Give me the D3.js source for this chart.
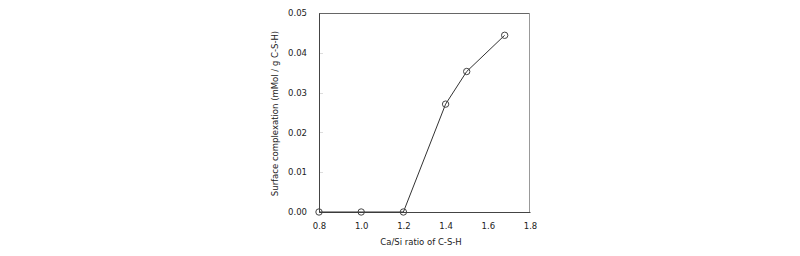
<!DOCTYPE html>
<html>
<head>
<meta charset="utf-8">
<script src="https://cdn.jsdelivr.net/npm/d3@7"></script>
<style>
  body { margin: 0; background: #fff; }
  svg text { font-family: "DejaVu Sans", Verdana, sans-serif; font-size: 8.5px; fill: #222; }
</style>
</head>
<body>
<svg id="chart" width="800" height="256"></svg>
<script>
"use strict";

// Ca/Si ratio vs surface complexation
const caSi = [0.8, 1.0, 1.2, 1.4, 1.5, 1.68];
const complexation = [0, 0, 0, 0.0271, 0.0353, 0.0444];
const xTicks = [0.8, 1.0, 1.2, 1.4, 1.6, 1.8];
const yTicks = [0, 0.01, 0.02, 0.03, 0.04, 0.05];

const svg = d3.select('#chart');
const plotL = 319, plotR = 530, plotT = 13, plotB = 212;

const x = d3.scaleLinear().domain([0.8, 1.8]).range([plotL, plotR]);
const y = d3.scaleLinear().domain([0, 0.05]).range([plotB, plotT]);

// frame (top/right lighter)
svg.append('line').attr('x1', plotL).attr('x2', plotR).attr('y1', plotT + 0.5).attr('y2', plotT + 0.5)
  .attr('stroke', '#666').attr('stroke-width', 1);
svg.append('line').attr('x1', plotR - 0.5).attr('x2', plotR - 0.5).attr('y1', plotT).attr('y2', plotB)
  .attr('stroke', '#999').attr('stroke-width', 1);

// inner faint ticks
svg.append('g').selectAll('line').data(yTicks.slice(1, -1)).enter().append('line')
  .attr('x1', plotL).attr('x2', plotL + 4)
  .attr('y1', d => Math.round(y(d)) + 0.5).attr('y2', d => Math.round(y(d)) + 0.5)
  .attr('stroke', '#ddd');

const xAxis = svg.append('g').attr('transform', `translate(0,${plotB})`)
  .call(d3.axisBottom(x).tickValues(xTicks).tickFormat(d3.format('.1f')).tickSize(0).tickPadding(11));
const yAxis = svg.append('g').attr('transform', `translate(${plotL},0)`)
  .call(d3.axisLeft(y).tickValues(yTicks).tickFormat(d3.format('.2f')).tickSize(0).tickPadding(12));
[xAxis, yAxis].forEach(a => {
  a.select('.domain').attr('stroke', '#444');
  a.selectAll('text').attr('fill', '#222').style('font-family', '"DejaVu Sans", Verdana, sans-serif').style('font-size', '8.5px');
});

// axis titles
svg.append('text').attr('x', 421).attr('y', 245).attr('text-anchor', 'middle')
  .text('Ca/Si ratio of C-S-H');
svg.append('text').attr('transform', `translate(278,113.5) rotate(-90)`)
  .attr('text-anchor', 'middle').text('Surface complexation (mMol / g C-S-H)');

// series
const line = d3.line().x((d, i) => x(caSi[i])).y(d => y(d));
svg.append('path').datum(complexation).attr('d', line)
  .attr('fill', 'none').attr('stroke', '#333').attr('stroke-width', 1);
svg.append('g').selectAll('circle').data(complexation).enter().append('circle')
  .attr('cx', (d, i) => x(caSi[i])).attr('cy', d => y(d)).attr('r', 3.2)
  .attr('fill', 'none').attr('stroke', '#444').attr('stroke-width', 1);
</script>
</body>
</html>
